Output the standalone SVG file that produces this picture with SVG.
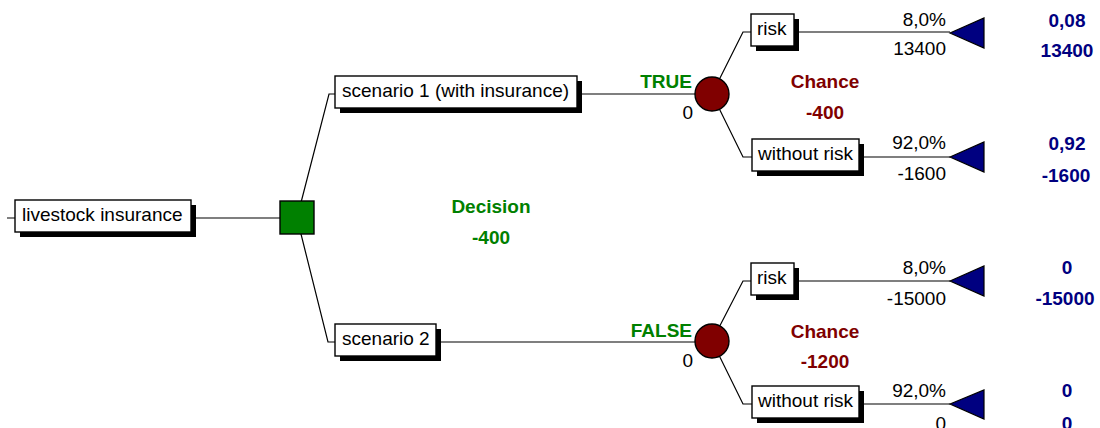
<svg xmlns="http://www.w3.org/2000/svg" width="1100" height="428" viewBox="0 0 1100 428">
<style>
text{font-family:"Liberation Sans",Arial,sans-serif;font-size:19px}
.lbl{fill:#000}
.b{font-weight:bold}
.g{fill:#008000}
.r{fill:#800000}
.n{fill:#000080}
.e{text-anchor:end}
.m{text-anchor:middle}
.box{fill:#fff;stroke:#000;stroke-width:1.4}
.sh{fill:#000}
.ln{fill:none;stroke:#000;stroke-width:1.2}
</style>
<rect width="1100" height="428" fill="#fff"/>
<g id="connectors">
<path class="ln" d="M7,218H280"/>
<path class="ln" d="M297,218L329,94H335"/>
<path class="ln" d="M297,218L328,342H335"/>
<path class="ln" d="M577,94H712"/>
<path class="ln" d="M436,342H712"/>
<path class="ln" d="M712,94L743,32H751"/>
<path class="ln" d="M712,94L743,157H752"/>
<path class="ln" d="M712,341L743,281H751"/>
<path class="ln" d="M712,341L743,404H752"/>
<path class="ln" d="M794,32H950"/>
<path class="ln" d="M859,157H950"/>
<path class="ln" d="M794,281H950"/>
<path class="ln" d="M859,404H950"/>
</g>
<g id="root">
<rect class="sh" x="20" y="205" width="176" height="32"/>
<rect class="box" x="15" y="200" width="176" height="32"/>
<text x="22" y="221">livestock insurance</text>
</g>
<g id="decision">
<rect x="280" y="201" width="34" height="33" fill="#008000" stroke="#000" stroke-width="1.4"/>
<text class="b g m" x="491" y="213">Decision</text>
<text class="b g m" x="491" y="244">-400</text>
</g>
<g id="scenario1">
<rect class="sh" x="340" y="81" width="242" height="32"/>
<rect class="box" x="335" y="76" width="242" height="32"/>
<text x="342" y="97">scenario 1 (with insurance)</text>
<text class="b g e" x="692" y="88">TRUE</text>
<text class="e" x="693" y="119">0</text>
</g>
<g id="scenario2">
<rect class="sh" x="340" y="329" width="101" height="32"/>
<rect class="box" x="335" y="324" width="101" height="32"/>
<text x="342" y="345">scenario 2</text>
<text class="b g e" x="692" y="337">FALSE</text>
<text class="e" x="693" y="367">0</text>
</g>
<g id="chance1">
<circle cx="712" cy="94" r="17" fill="#800000" stroke="#000" stroke-width="1.4"/>
<text class="b r m" x="825" y="88">Chance</text>
<text class="b r m" x="825" y="119">-400</text>
</g>
<g id="chance2">
<circle cx="712" cy="341" r="17" fill="#800000" stroke="#000" stroke-width="1.4"/>
<text class="b r m" x="825" y="338">Chance</text>
<text class="b r m" x="825" y="368">-1200</text>
</g>
<g id="risk1">
<rect class="sh" x="756" y="19" width="43" height="32"/>
<rect class="box" x="751" y="14" width="43" height="32"/>
<text x="757" y="35">risk</text>
<text class="e" x="946" y="26">8,0%</text>
<text class="e" x="946" y="55">13400</text>
<path d="M950,33L984,18V48Z" fill="#000080" stroke="#000" stroke-width="1.2"/>
<text class="b n m" x="1067" y="27">0,08</text>
<text class="b n m" x="1067" y="57">13400</text>
</g>
<g id="norisk1">
<rect class="sh" x="757" y="144" width="107" height="32"/>
<rect class="box" x="752" y="139" width="107" height="32"/>
<text x="758" y="160">without risk</text>
<text class="e" x="946" y="149">92,0%</text>
<text class="e" x="946" y="180">-1600</text>
<path d="M950,157L984,142V172Z" fill="#000080" stroke="#000" stroke-width="1.2"/>
<text class="b n m" x="1067" y="150">0,92</text>
<text class="b n m" x="1066" y="182">-1600</text>
</g>
<g id="risk2">
<rect class="sh" x="756" y="268" width="43" height="32"/>
<rect class="box" x="751" y="263" width="43" height="32"/>
<text x="757" y="284">risk</text>
<text class="e" x="946" y="274">8,0%</text>
<text class="e" x="946" y="305">-15000</text>
<path d="M950,281L984,266V296Z" fill="#000080" stroke="#000" stroke-width="1.2"/>
<text class="b n m" x="1067" y="274">0</text>
<text class="b n m" x="1065" y="305">-15000</text>
</g>
<g id="norisk2">
<rect class="sh" x="757" y="391" width="107" height="32"/>
<rect class="box" x="752" y="386" width="107" height="32"/>
<text x="758" y="407">without risk</text>
<text class="e" x="946" y="397">92,0%</text>
<text class="e" x="946" y="430">0</text>
<path d="M950,404L984,390V419Z" fill="#000080" stroke="#000" stroke-width="1.2"/>
<text class="b n m" x="1067" y="397">0</text>
<text class="b n m" x="1067" y="430">0</text>
</g>
</svg>
